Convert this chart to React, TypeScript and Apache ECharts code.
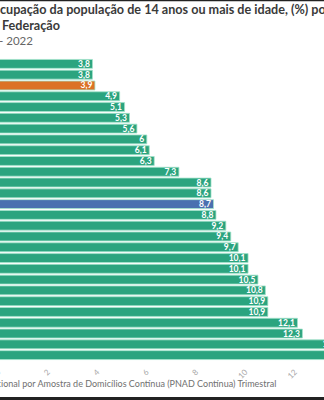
import React, { useEffect, useRef } from "react";
import * as echarts from "echarts";

const categories = [
  "Santa Catarina", "Mato Grosso", "Rondônia", "Mato Grosso do Sul", "Paraná",
  "Rio Grande do Sul", "Goiás", "Tocantins", "Espírito Santo", "Minas Gerais",
  "Roraima", "Pará", "Acre", "Brasil", "Ceará", "Amapá", "São Paulo", "Maranhão",
  "Piauí", "Amazonas", "Paraíba", "Distrito Federal", "Alagoas", "Sergipe",
  "Rio Grande do Norte", "Rio de Janeiro", "Pernambuco", "Bahia",
];
const values = [
  3.8, 3.8, 3.9, 4.9, 5.1, 5.3, 5.6, 6, 6.1, 6.3, 7.3, 8.6, 8.6, 8.7, 8.8, 9.2,
  9.4, 9.7, 10.1, 10.1, 10.5, 10.8, 10.9, 10.9, 12.1, 12.3, 13.9, 15.1,
];
const highlightOrange = "Rondônia";
const highlightBlue = "Brasil";
const xMin = 0;
const xMax = 16;
const xInterval = 2;

const titleLine1 = "Taxa de desocupação da população de 14 anos ou mais de idade, (%) por";
const titleLine2 = "Unidade da Federação";
const subtitle = "3º trimestre - 2022";
const source =
  "Fonte: IBGE - Pesquisa Nacional por Amostra de Domicílios Contínua (PNAD Contínua) Trimestral";

const FONT = "Lato, 'Noto Sans', sans-serif";

function measure(text: string, font: string): number {
  const ctx = document.createElement("canvas").getContext("2d");
  if (!ctx) return text.length * 6;
  ctx.font = font;
  return ctx.measureText(text).width;
}

export default function App() {
  const ref = useRef<HTMLDivElement>(null);
  useEffect(() => {
    if (!ref.current) return;
    const chart = echarts.init(ref.current, null, { renderer: "svg" });

    const visible1 = "cupação da população de 14 anos ou mais de idade, (%) po";
    const tSize = (100 * 326) / measure(visible1, `bold 100px ${FONT}`);
    const tFont = `bold ${tSize}px ${FONT}`;
    const titleX = -measure("Taxa de deso", tFont);
    const title2X = 2 - measure("Unidade da ", tFont);
    const subSize = 11.5;
    const subX = -1 - measure("3º trimestre ", `${subSize}px ${FONT}`);
    const srcSize = 9;
    const srcX = 1 - measure("Fonte: IBGE - Pesquisa Nac", `${srcSize}px ${FONT}`);

    const data = categories.map((c, i) => ({
      value: values[i],
      itemStyle: {
        color: c === highlightOrange ? "#dc7225" : c === highlightBlue ? "#4a70b0" : "#2ba47f",
      },
    }));

    chart.setOption({
      animation: false,
      backgroundColor: "#ffffff",
      grid: {
        left: -1,
        top: 58.5,
        height: 302,
        width: 24.7 * (xMax - xMin),
        containLabel: false,
        outerBoundsMode: "none",
      },
      xAxis: {
        type: "value",
        min: xMin,
        max: xMax,
        interval: xInterval,
        axisLine: { show: false },
        axisTick: { show: false },
        splitLine: { show: false },
        axisLabel: {
          rotate: 45,
          margin: 10,
          fontSize: 8,
          color: "#a8a8a8",
          fontFamily: FONT,
        },
      },
      yAxis: {
        type: "category",
        data: categories,
        inverse: true,
        axisLine: { show: false },
        axisTick: { show: false },
        axisLabel: { show: false },
      },
      series: [
        {
          type: "bar",
          data,
          barCategoryGap: "10%",
          itemStyle: { borderColor: "#a3e3cc", borderWidth: 0.8 },
          label: {
            show: true,
            position: "insideRight",
            distance: 3,
            color: "#ffffff",
            fontSize: 8.5,
            fontWeight: "bold",
            fontFamily: FONT,
            formatter: (p: any) => String(p.value).replace(".", ","),
          },
        },
      ],
      graphic: [
        {
          type: "text",
          x: titleX,
          y: 9.5,
          style: { text: titleLine1, font: tFont, fill: "#3a3a3a", verticalAlign: "middle" },
        },
        {
          type: "text",
          x: title2X,
          y: 25,
          style: { text: titleLine2, font: tFont, fill: "#3a3a3a", verticalAlign: "middle" },
        },
        {
          type: "text",
          x: subX,
          y: 40,
          style: {
            text: subtitle,
            font: `${subSize}px ${FONT}`,
            fill: "#666666",
            verticalAlign: "middle",
          },
        },
        {
          type: "text",
          x: srcX,
          y: 383,
          style: {
            text: source,
            font: `${srcSize}px ${FONT}`,
            fill: "#707070",
            verticalAlign: "middle",
          },
        },
        { type: "rect", shape: { x: 0, y: 0, width: 324, height: 1.2 }, style: { fill: "#222" } },
        { type: "rect", shape: { x: 0, y: 397, width: 324, height: 3 }, style: { fill: "#222" } },
      ],
    });
    return () => chart.dispose();
  }, []);

  return (
    <div
      style={{
        position: "fixed",
        left: 0,
        top: 0,
        width: 324,
        height: 400,
        overflow: "hidden",
        background: "#fff",
      }}
    >
      <div ref={ref} style={{ width: 324, height: 400 }} />
    </div>
  );
}
